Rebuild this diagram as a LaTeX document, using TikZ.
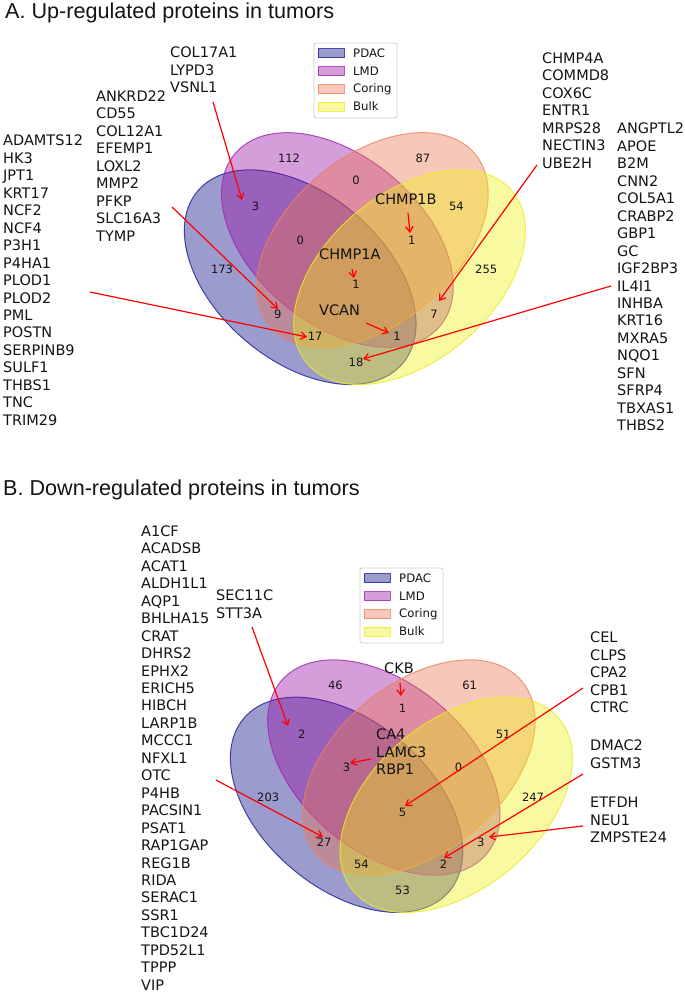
\documentclass[tikz,border=0pt]{standalone}
\usepackage{fontspec}
\setmainfont{DejaVu Sans}
\newfontfamily\titlefont{Liberation Sans}
\usetikzlibrary{arrows.meta}
\definecolor{pdacF}{RGB}{5,5,130}
\definecolor{pdacE}{RGB}{30,30,150}
\definecolor{lmdF}{RGB}{150,10,160}
\definecolor{lmdE}{RGB}{160,40,175}
\definecolor{corF}{RGB}{235,115,80}
\definecolor{corE}{RGB}{235,130,95}
\definecolor{bulkF}{RGB}{240,240,20}
\definecolor{bulkE}{RGB}{235,235,40}
\definecolor{txt}{RGB}{20,20,20}
\tikzset{
  pdac/.style={fill=pdacF, fill opacity=0.4, draw=pdacE, draw opacity=0.8, line width=1pt},
  lmd/.style={fill=lmdF, fill opacity=0.4, draw=lmdE, draw opacity=0.8, line width=1pt},
  cor/.style={fill=corF, fill opacity=0.4, draw=corE, draw opacity=0.8, line width=1pt},
  bulk/.style={fill=bulkF, fill opacity=0.4, draw=bulkE, draw opacity=0.8, line width=1pt},
  num/.style={font=\fontsize{11.5}{13}\selectfont, inner sep=0pt, text=txt},
  gene/.style={font=\fontsize{14.5}{17.45}\selectfont, inner sep=0pt, anchor=north west, align=left, text=txt},
  callout/.style={red, line width=1.2pt, -{Straight Barb[length=5.5pt,width=7.5pt]}},
  legframe/.style={draw=black!20, fill=white, rounded corners=2pt, line width=0.8pt},
  legtext/.style={font=\fontsize{11.7}{13}\selectfont, anchor=west, inner sep=0pt, text=txt},
  ttl/.style={font=\titlefont\fontsize{21.6}{25}\selectfont, anchor=base west, inner sep=0pt, text=txt}
}
\begin{document}
\begin{tikzpicture}[x=1pt,y=-1pt]
\useasboundingbox (0,0) rectangle (685,994);

% ================= A =================
\node[ttl] (titleA) at (5,18) {A. Up-regulated proteins in tumors};

\begin{scope}[shift={(170,426)},x=372pt,y=372pt]
  \draw[pdac] [rotate around={140:(0.350,0.400)}] (0.350,0.400) ellipse [x radius=0.36, y radius=0.225];
  \draw[lmd]  [rotate around={140:(0.450,0.500)}] (0.450,0.500) ellipse [x radius=0.36, y radius=0.225];
  \draw[cor]  [rotate around={40:(0.544,0.500)}] (0.544,0.500) ellipse [x radius=0.36, y radius=0.225];
  \draw[bulk] [rotate around={40:(0.644,0.400)}] (0.644,0.400) ellipse [x radius=0.36, y radius=0.225];
  \node[num] (a0001) at (0.85,0.42) {255};
  \node[num] (a0010) at (0.68,0.72) {87};
  \node[num] (a0011) at (0.77,0.59) {54};
  \node[num] (a0100) at (0.32,0.72) {112};
  \node[num] (a0101) at (0.71,0.30) {7};
  \node[num] (a0110) at (0.50,0.66) {0};
  \node[num] (a0111) at (0.65,0.50) {1};
  \node[num] (a1000) at (0.14,0.42) {173};
  \node[num] (a1001) at (0.50,0.17) {18};
  \node[num] (a1010) at (0.29,0.30) {9};
  \node[num] (a1011) at (0.39,0.24) {17};
  \node[num] (a1100) at (0.23,0.59) {3};
  \node[num] (a1101) at (0.61,0.24) {1};
  \node[num] (a1110) at (0.35,0.50) {0};
  \node[num] (a1111) at (0.50,0.38) {1};
\end{scope}

% legend A
\begin{scope}
  \draw[legframe] (314,43) rectangle (397,118);
  \draw[pdac] (318,48.5) rectangle (344,57.5);
  \draw[lmd]  (318,66.5) rectangle (344,75.5);
  \draw[cor]  (318,84.5) rectangle (344,93.5);
  \draw[bulk] (318,102) rectangle (344,111);
  \node[legtext] (lgA1) at (353,53) {PDAC};
  \node[legtext] (lgA2) at (353,71) {LMD};
  \node[legtext] (lgA3) at (353,89) {Coring};
  \node[legtext] (lgA4) at (353,106.5) {Bulk};
\end{scope}

% gene lists A
\node[gene] (gA1) at (3,135) {ADAMTS12\\HK3\\JPT1\\KRT17\\NCF2\\NCF4\\P3H1\\P4HA1\\PLOD1\\PLOD2\\PML\\POSTN\\SERPINB9\\SULF1\\THBS1\\TNC\\TRIM29};
\node[gene] (gA2) at (96,90.5) {ANKRD22\\CD55\\COL12A1\\EFEMP1\\LOXL2\\MMP2\\PFKP\\SLC16A3\\TYMP};
\node[gene] (gA3) at (170,47) {COL17A1\\LYPD3\\VSNL1};
\node[gene] (gA4) at (542,52.5) {CHMP4A\\COMMD8\\COX6C\\ENTR1\\MRPS28\\NECTIN3\\UBE2H};
\node[gene] (gA5) at (617,123) {ANGPTL2\\APOE\\B2M\\CNN2\\COL5A1\\CRABP2\\GBP1\\GC\\IGF2BP3\\IL4I1\\INHBA\\KRT16\\MXRA5\\NQO1\\SFN\\SFRP4\\TBXAS1\\THBS2};
\node[gene] (gA6) at (375,194) {CHMP1B};
\node[gene] (gA7) at (319,249) {CHMP1A};
\node[gene] (gA8) at (319,305) {VCAN};

% callouts A
\coordinate (sA3) at (213,102);   \coordinate (eA3) at (242,200);
\coordinate (sA2) at (172,207);   \coordinate (eA2) at (278,309);
\coordinate (sA1) at (90,292);    \coordinate (eA1) at (307,337);
\coordinate (sA4) at (537,165);   \coordinate (eA4) at (439,301);
\coordinate (sA5) at (611,286);   \coordinate (eA5) at (363,359);
\coordinate (sA6) at (408,213);   \coordinate (eA6) at (410,233);
\coordinate (sA7) at (352,269);   \coordinate (eA7) at (354,278);
\coordinate (sA8) at (366,323);   \coordinate (eA8) at (389,333);
\draw[callout] (sA3) -- (eA3);
\draw[callout] (sA2) -- (eA2);
\draw[callout] (sA1) -- (eA1);
\draw[callout] (sA4) -- (eA4);
\draw[callout] (sA5) -- (eA5);
\draw[callout] (sA6) -- (eA6);
\draw[callout] (sA7) -- (eA7);
\draw[callout] (sA8) -- (eA8);

% ================= B =================
\node[ttl] (titleB) at (3,495) {B. Down-regulated proteins in tumors};

\begin{scope}[shift={(216,954)},x=373pt,y=373pt]
  \draw[pdac] [rotate around={140:(0.350,0.400)}] (0.350,0.400) ellipse [x radius=0.36, y radius=0.225];
  \draw[lmd]  [rotate around={140:(0.450,0.500)}] (0.450,0.500) ellipse [x radius=0.36, y radius=0.225];
  \draw[cor]  [rotate around={40:(0.544,0.500)}] (0.544,0.500) ellipse [x radius=0.36, y radius=0.225];
  \draw[bulk] [rotate around={40:(0.644,0.400)}] (0.644,0.400) ellipse [x radius=0.36, y radius=0.225];
  \node[num] (b0001) at (0.85,0.42) {247};
  \node[num] (b0010) at (0.68,0.72) {61};
  \node[num] (b0011) at (0.77,0.59) {51};
  \node[num] (b0100) at (0.32,0.72) {46};
  \node[num] (b0101) at (0.71,0.30) {3};
  \node[num] (b0110) at (0.50,0.66) {1};
  \node[num] (b0111) at (0.65,0.50) {0};
  \node[num] (b1000) at (0.14,0.42) {203};
  \node[num] (b1001) at (0.50,0.17) {53};
  \node[num] (b1010) at (0.29,0.30) {27};
  \node[num] (b1011) at (0.39,0.24) {54};
  \node[num] (b1100) at (0.23,0.59) {2};
  \node[num] (b1101) at (0.61,0.24) {2};
  \node[num] (b1110) at (0.35,0.50) {3};
  \node[num] (b1111) at (0.50,0.38) {5};
\end{scope}

% legend B
\begin{scope}[shift={(46,525)}]
  \draw[legframe] (314,43) rectangle (397,118);
  \draw[pdac] (318,48.5) rectangle (344,57.5);
  \draw[lmd]  (318,66.5) rectangle (344,75.5);
  \draw[cor]  (318,84.5) rectangle (344,93.5);
  \draw[bulk] (318,102) rectangle (344,111);
  \node[legtext] (lgB1) at (353,53) {PDAC};
  \node[legtext] (lgB2) at (353,71) {LMD};
  \node[legtext] (lgB3) at (353,89) {Coring};
  \node[legtext] (lgB4) at (353,106.5) {Bulk};
\end{scope}

% gene lists B
\node[gene] (gB1) at (141,525.5) {A1CF\\ACADSB\\ACAT1\\ALDH1L1\\AQP1\\BHLHA15\\CRAT\\DHRS2\\EPHX2\\ERICH5\\HIBCH\\LARP1B\\MCCC1\\NFXL1\\OTC\\P4HB\\PACSIN1\\PSAT1\\RAP1GAP\\REG1B\\RIDA\\SERAC1\\SSR1\\TBC1D24\\TPD52L1\\TPPP\\VIP};
\node[gene] (gB2) at (216,590) {SEC11C\\STT3A};
\node[gene] (gB3) at (384,663) {CKB};
\node[gene] (gB4) at (376,729) {CA4\\LAMC3\\RBP1};
\node[gene] (gB5) at (590,632) {CEL\\CLPS\\CPA2\\CPB1\\CTRC};
\node[gene] (gB6) at (590,740) {DMAC2\\GSTM3};
\node[gene] (gB7) at (590,797) {ETFDH\\NEU1\\ZMPSTE24};

% callouts B
\coordinate (sB2) at (252,627);   \coordinate (eB2) at (288,726);
\coordinate (sB3) at (400,683);   \coordinate (eB3) at (401,696);
\coordinate (sB4) at (371,759);   \coordinate (eB4) at (350,763);
\coordinate (sB1) at (216,780);   \coordinate (eB1) at (323,837);
\coordinate (sB5) at (583,688);   \coordinate (eB5) at (405,806);
\coordinate (sB6) at (583,774);   \coordinate (eB6) at (444,858);
\coordinate (sB7) at (583,826);   \coordinate (eB7) at (489,837);
\draw[callout] (sB2) -- (eB2);
\draw[callout] (sB3) -- (eB3);
\draw[callout] (sB4) -- (eB4);
\draw[callout] (sB1) -- (eB1);
\draw[callout] (sB5) -- (eB5);
\draw[callout] (sB6) -- (eB6);
\draw[callout] (sB7) -- (eB7);
\end{tikzpicture}
\end{document}
